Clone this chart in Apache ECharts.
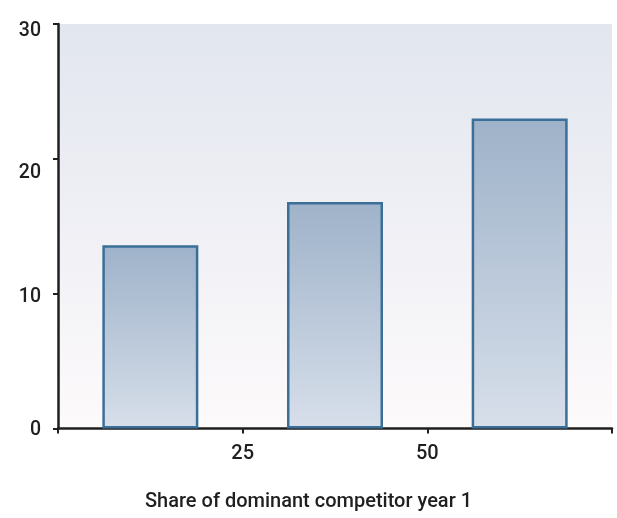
<!DOCTYPE html>
<html>
<head>
<meta charset="utf-8">
<script src="https://cdn.jsdelivr.net/npm/echarts@6/dist/echarts.min.js"></script>
<style>
  html, body { margin: 0; padding: 0; background: #ffffff; }
  #chart { width: 617px; height: 518px; }
</style>
</head>
<body>
<div id="chart"></div>
<script>
// Share of dominant competitor in year 1: bin centres and bar heights
const binCentres = [12.5, 37.5, 62.5];
const barValues = [13.6, 16.8, 23.0];
const xTickLabels = ['', '25', '50', ''];
const yTickLabels = ['0', '10', '20', '30'];
const xAxisTitle = 'Share of dominant competitor year 1';

const FONT = 'Roboto';
const INK = '#1f1f1f';

// small downward nudges for the y labels (top padding in px)
const yLabelNudge = { 0: 4, 10: 6, 20: 29, 30: 14 };

const chart = echarts.init(document.getElementById('chart'), null, { renderer: 'canvas' });

const yRich = {};
Object.keys(yLabelNudge).forEach((k) => {
  yRich['n' + k] = {
    fontFamily: FONT, fontSize: 19.5, fontWeight: 500, color: INK,
    padding: [yLabelNudge[k], 0, 0, 0]
  };
});

chart.setOption({
  animation: false,
  backgroundColor: '#ffffff',
  textStyle: { fontFamily: FONT },
  title: {
    text: xAxisTitle,
    left: 'center',
    top: 492,
    padding: 0,
    textStyle: { fontFamily: FONT, fontSize: 20, fontWeight: 500, color: INK }
  },
  grid: {
    left: 58, right: 5, top: 24, bottom: 89.5,
    show: true,
    borderWidth: 0,
    backgroundColor: new echarts.graphic.LinearGradient(0, 0, 0, 1, [
      { offset: 0, color: '#e2e6ef' },
      { offset: 1, color: '#fdfafb' }
    ])
  },
  xAxis: {
    type: 'value',
    min: 0, max: 75, interval: 25,
    axisLine: { show: true, onZero: false, lineStyle: { color: INK, width: 2.5 } },
    axisTick: { show: true, length: 5, lineStyle: { color: INK, width: 2 } },
    splitLine: { show: false },
    axisLabel: {
      margin: 15,
      fontFamily: FONT, fontSize: 20, fontWeight: 500, color: INK,
      formatter: (v) => xTickLabels[Math.round(v / 25)] || ''
    }
  },
  yAxis: {
    type: 'value',
    min: 0, max: 30, interval: 10,
    axisLine: { show: true, lineStyle: { color: INK, width: 2.5 } },
    axisTick: { show: true, length: 5, lineStyle: { color: INK, width: 2 } },
    splitLine: { show: false },
    axisLabel: {
      margin: 17,
      fontFamily: FONT, fontSize: 19.5, fontWeight: 500, color: INK,
      formatter: (v) => {
        const i = Math.round(v / 10);
        return '{n' + (i * 10) + '|' + yTickLabels[i] + '}';
      },
      rich: yRich
    }
  },
  series: [{
    type: 'bar',
    data: binCentres.map((c, i) => [c, barValues[i]]),
    barWidth: 96,
    itemStyle: {
      borderColor: '#3b6f98',
      borderWidth: 2.5,
      color: new echarts.graphic.LinearGradient(0, 0, 0, 1, [
        { offset: 0, color: '#9eb2c9' },
        { offset: 1, color: '#d7dfea' }
      ])
    }
  }]
});
</script>
</body>
</html>
